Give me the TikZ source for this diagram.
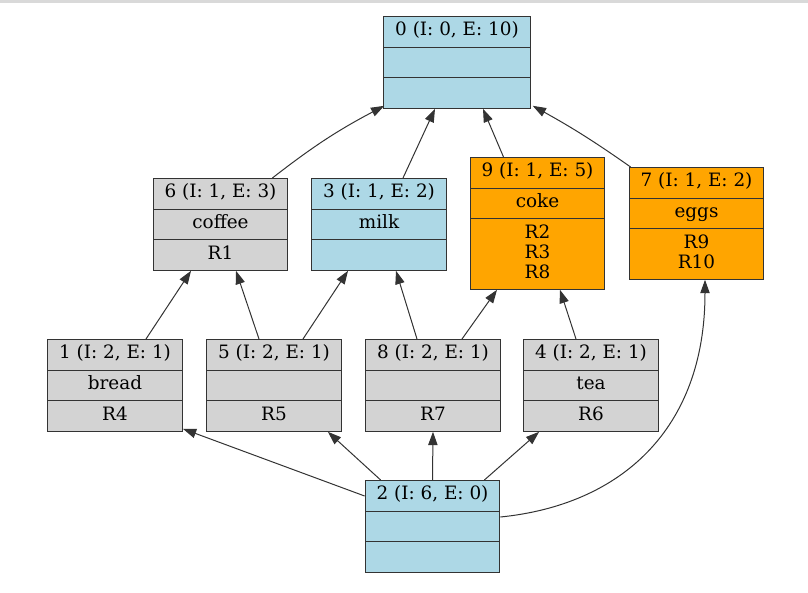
\documentclass[tikz,border=0pt]{standalone}
\usepackage{fontspec}
\setmainfont{DejaVu Serif}
\usepackage{tikz}
\usetikzlibrary{shapes.multipart}
\usetikzlibrary{arrows.meta,calc}
\definecolor{lblue}{HTML}{ADD8E6}
\definecolor{lgray}{HTML}{D3D3D3}
\definecolor{orng}{HTML}{FFA500}

\begin{document}
\begin{tikzpicture}[x=.75pt,y=-.75pt,
  rec/.style={rectangle split, rectangle split parts=3, draw=black!80, line width=.75pt,
    align=center, inner xsep=8.6pt, inner ysep=3.6pt, anchor=north,
    font=\fontsize{13.8}{15}\selectfont},
  edge/.style={draw=black!80, line width=.75pt, -{Triangle[length=10pt,width=7pt]}}]
\useasboundingbox (0,0) rectangle (808,593);
\fill[black!15] (0,0) rectangle (808,3);
% top
\node[rec, fill=lblue] (n0) at (457,16) {\strut 0 (I: 0, E: 10) \nodepart{two} \strut \nodepart{three} \strut};
% second row
\node[rec, fill=lgray] (n6) at (220.5,178) {\strut 6 (I: 1, E: 3) \nodepart{two} \strut coffee \nodepart{three} \strut R1};
\node[rec, fill=lblue] (n3) at (379,178) {\strut 3 (I: 1, E: 2) \nodepart{two} \strut milk \nodepart{three} \strut};
\node[rec, fill=orng] (n9) at (537.5,157) {\strut 9 (I: 1, E: 5) \nodepart{two} \strut coke \nodepart{three} \strut R2\\\strut R3\\\strut R8};
\node[rec, fill=orng] (n7) at (696.5,167) {\strut 7 (I: 1, E: 2) \nodepart{two} \strut eggs \nodepart{three} \strut R9\\\strut R10};
% third row
\node[rec, fill=lgray] (n1) at (115,339) {\strut 1 (I: 2, E: 1) \nodepart{two} \strut bread \nodepart{three} \strut R4};
\node[rec, fill=lgray] (n5) at (274,339) {\strut 5 (I: 2, E: 1) \nodepart{two} \strut \nodepart{three} \strut R5};
\node[rec, fill=lgray] (n8) at (433,339) {\strut 8 (I: 2, E: 1) \nodepart{two} \strut \nodepart{three} \strut R7};
\node[rec, fill=lgray] (n4) at (591,339) {\strut 4 (I: 2, E: 1) \nodepart{two} \strut tea \nodepart{three} \strut R6};
% bottom
\node[rec, fill=lblue] (n2) at (432.5,480) {\strut 2 (I: 6, E: 0) \nodepart{two} \strut \nodepart{three} \strut};
% edges to 0
\draw[edge] ($(n6.north east)+(-16,0)$) to[bend left=5] ($(n0.south west)+(1,-3)$);
\draw[edge] ($(n3.north)+(24,0)$) -- ($(n0.south)+(-22,0)$);
\draw[edge] ($(n9.north)+(-34,0)$) -- ($(n0.south)+(26,0)$);
\draw[edge] ($(n7.north west)+(2,0)$) to[bend right=3] ($(n0.south east)+(2,-3)$);
% edges to second row
\draw[edge] ($(n1.north)+(31,0)$) -- ($(n6.south)+(-29.5,0)$);
\draw[edge] ($(n5.north)+(-15,0)$) -- ($(n6.south)+(15.5,0)$);
\draw[edge] ($(n5.north)+(29,0)$) -- ($(n3.south)+(-31,0)$);
\draw[edge] ($(n8.north)+(-16,0)$) -- ($(n3.south)+(17,0)$);
\draw[edge] ($(n8.north)+(29,0)$) -- ($(n9.south)+(-40.5,0)$);
\draw[edge] ($(n4.north)+(-15,0)$) -- ($(n9.south)+(22.5,0)$);
% edges from 2
\draw[edge] ($(n2.north west)+(0,16)$) -- ($(n1.south east)+(0,-3)$);
\draw[edge] ($(n2.north west)+(16,0)$) -- ($(n5.south east)+(-14,0)$);
\draw[edge] (n2.north) -- (n8.south);
\draw[edge] ($(n2.north east)+(-16,0)$) -- ($(n4.south west)+(16,0)$);
\draw[edge] ($(n2.north east)+(0,37)$) .. controls ($(n2.north east)+(120,25)$) and ($(n7.south)+(8.5,150)$) .. ($(n7.south)+(8.5,0)$);
\end{tikzpicture}
\end{document}
